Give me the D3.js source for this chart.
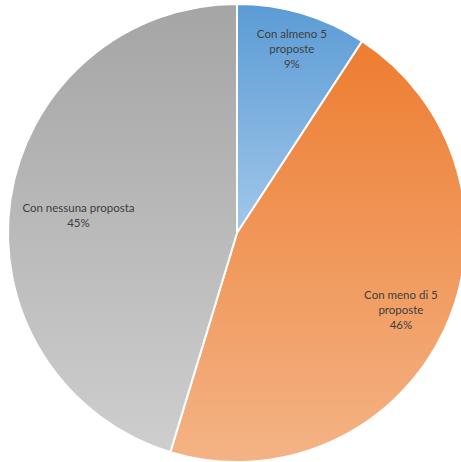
<!DOCTYPE html>
<html>
<head>
<meta charset="utf-8">
<script src="https://cdn.jsdelivr.net/npm/d3@7"></script>
<style>
  body { margin: 0; background: #fff; }
  svg { display: block; }
</style>
</head>
<body>
<svg id="chart"></svg>
<script>
// data
const categories = ['Con almeno 5 proposte', 'Con meno di 5 proposte', 'Con nessuna proposta']
const values = [9.2, 45.5, 45.3]
const pctLabels = ['9%', '46%', '45%']
const labelLines = [
  ['Con almeno 5', 'proposte'],
  ['Con meno di 5', 'proposte'],
  ['Con nessuna proposta'],
]

const width = 461
const height = 462
const cx = 237
const cy = 233
const radius = 229

// excel style gradients, dark on top, light at bottom
const colors = [
  ['#5b9bd5', '#a2c7ea'],
  ['#ed7d31', '#f4b385'],
  ['#a5a5a5', '#cecece'],
]
// label distance from centre (share of radius) and a small vertical nudge
const labelRadius = [0.84, 0.79, 0.7]
const labelNudge = [0, 0, 6]

const svg = d3.select('#chart').attr('width', width).attr('height', height)

const defs = svg.append('defs')
colors.forEach((c, i) => {
  const g = defs
    .append('linearGradient')
    .attr('id', 'grad' + i)
    .attr('x1', 0)
    .attr('y1', 0)
    .attr('x2', 0)
    .attr('y2', 1)
  g.append('stop').attr('offset', '0%').attr('stop-color', c[0])
  g.append('stop').attr('offset', '100%').attr('stop-color', c[1])
})

const pie = d3.pie().sort(null).value((d) => d)
const arcs = pie(values)

const arc = d3.arc().innerRadius(0).outerRadius(radius)

const g = svg.append('g').attr('transform', `translate(${cx},${cy})`)

g.selectAll('path')
  .data(arcs)
  .join('path')
  .attr('d', arc)
  .attr('fill', (d, i) => `url(#grad${i})`)
  .attr('stroke', '#fff')
  .attr('stroke-width', 2)
  .attr('stroke-linejoin', 'round')

// labels
const labels = g
  .selectAll('text')
  .data(arcs)
  .join('text')
  .attr('transform', (d, i) => {
    const r = radius * labelRadius[i]
    const a = (d.startAngle + d.endAngle) / 2
    return `translate(${Math.sin(a) * r},${-Math.cos(a) * r + labelNudge[i]})`
  })
  .attr('text-anchor', 'middle')
  .attr('font-family', 'Lato, "Open Sans", sans-serif')
  .attr('font-size', '11.5px')
  .attr('fill', '#404040')

labels.each(function (d, i) {
  const lines = labelLines[i].concat(pctLabels[i])
  const t = d3.select(this)
  const lh = 15
  const y0 = -((lines.length - 1) * lh) / 2 + 4
  lines.forEach((l, j) => {
    t.append('tspan').attr('x', 0).attr('y', y0 + j * lh).text(l)
  })
})
</script>
</body>
</html>
